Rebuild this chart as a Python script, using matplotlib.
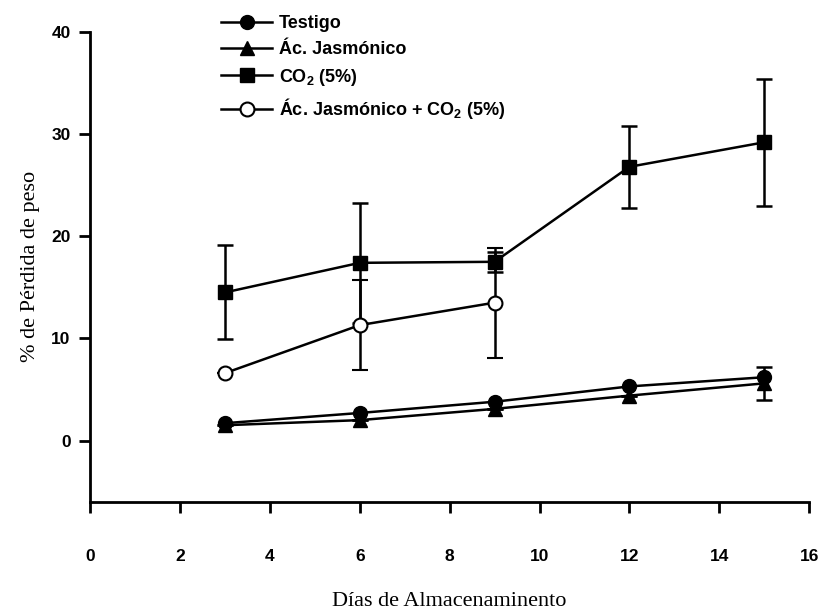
import numpy as np
import matplotlib
matplotlib.use("Agg")
import matplotlib.pyplot as plt
from matplotlib.lines import Line2D

plt.rcParams["mathtext.fontset"] = "custom"
plt.rcParams["mathtext.rm"] = "Liberation Sans:bold"
plt.rcParams["mathtext.default"] = "rm"

# storage days
dias = [3, 6, 9, 12, 15]

# % weight loss per treatment
testigo = [1.7, 2.7, 3.8, 5.3, 6.2]
jasmonico = [1.5, 2.0, 3.1, 4.4, 5.6]
jasmonico_err = [0, 0, 0, 0, 1.6]
co2 = [14.5, 17.4, 17.5, 26.8, 29.2]
co2_err = [4.6, 5.9, 1.0, 4.0, 6.2]
jas_co2 = [6.6, 11.3, 13.5]
jas_co2_err = [0, 4.4, 5.4]

etiquetas = ["Testigo", "Ác. Jasmónico", "CO$_2$ (5%)", "Ác. Jasmónico + CO$_2$ (5%)"]

fig = plt.figure(figsize=(8.19, 6.15), dpi=100)
ax = fig.add_axes([0.110, 0.184, 0.878, 0.764])

kw = dict(color="black", lw=1.8, capsize=6, elinewidth=1.8, capthick=1.8, markersize=10)
ax.errorbar(dias, co2, yerr=co2_err, marker="s", **kw)
ax.errorbar(dias[:3], jas_co2, yerr=jas_co2_err, marker="o", mfc="white", mec="black", mew=1.5, **kw)
ax.errorbar(dias, jasmonico, yerr=jasmonico_err, marker="^", **kw)
ax.errorbar(dias, testigo, marker="o", **kw)

ax.set_xlim(0, 16)
ax.set_ylim(-6, 40)
ax.set_xticks(np.arange(0, 17, 2))
ax.set_yticks([0, 10, 20, 30, 40])
for s in ["top", "right"]:
    ax.spines[s].set_visible(False)
for s in ["left", "bottom"]:
    ax.spines[s].set_linewidth(2)
ax.tick_params(width=2, length=8, labelsize=12.5)
ax.tick_params(axis="x", pad=26)
ax.tick_params(axis="y", pad=6)
for t in ax.get_xticklabels() + ax.get_yticklabels():
    t.set_fontweight("bold")
    t.set_family("Liberation Sans")

ax.set_xlabel("Días de Almacenaminento", family="Liberation Serif", fontsize=16, labelpad=20)
ax.set_ylabel("% de Pérdida de peso", family="Liberation Serif", fontsize=16, labelpad=8)

handles = [
    Line2D([], [], color="black", lw=1.8, marker="o", markersize=10),
    Line2D([], [], color="black", lw=1.8, marker="^", markersize=10),
    Line2D([], [], color="black", lw=1.8, marker="s", markersize=10),
    Line2D([], [], color="black", lw=1.8, marker="o", markersize=10, mfc="white", mew=1.5),
]
ax.legend(handles, etiquetas, loc="upper left", bbox_to_anchor=(0.16, 1.07), frameon=False,
          handlelength=2.8, prop={"family": "Liberation Sans", "weight": "bold", "size": 13},
          labelspacing=0.48, handletextpad=0.4)

fig.savefig("out.png", dpi=100)
